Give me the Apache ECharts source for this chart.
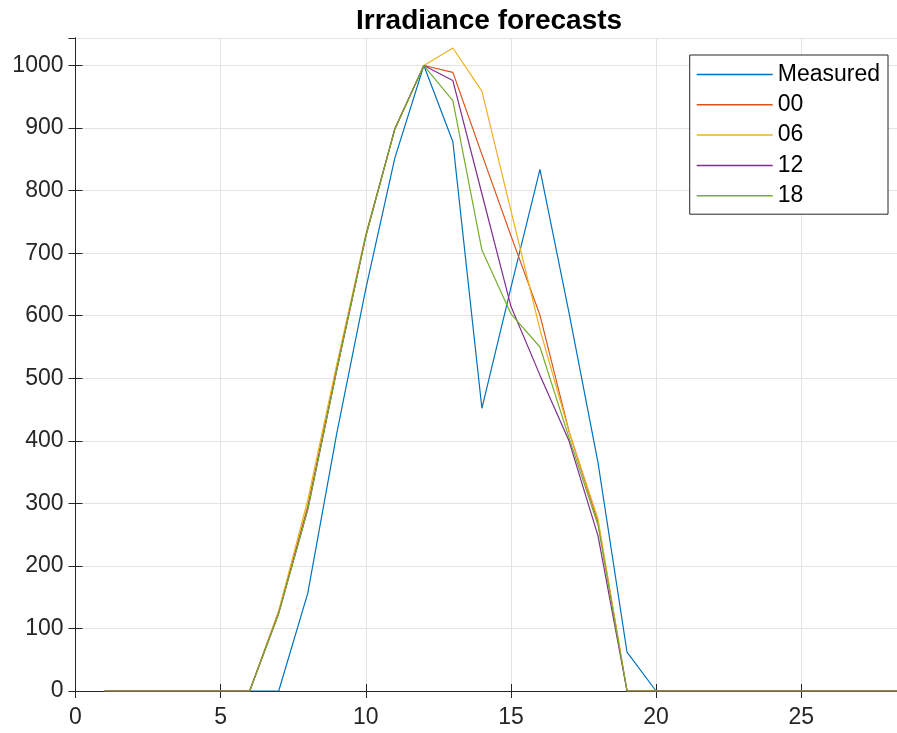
<!DOCTYPE html>
<html>
<head>
<meta charset="utf-8">
<script src="https://cdn.jsdelivr.net/npm/echarts@6/dist/echarts.min.js"></script>
<style>html,body{margin:0;padding:0;background:#fff}#c{width:897px;height:733px}</style>
</head>
<body>
<div id="c"></div>
<script>
const hours = [1,2,3,4,5,6,7,8,9,10,11,12,13,14,15,16,17,18,19,20,21,22,23,24,25,26,27,28,29];
const measured = [0,0,0,0,0,0,0,156,412,643,852,1000,878,452,645,834,605,365,62,0,0,0,0,0,0,0,0,0,0];
const f00 = [0,0,0,0,0,0,127,295,515,728,898,1000,989,858,728,601,415,270,0,0,0,0,0,0,0,0,0,0,0];
const f06 = [0,0,0,0,0,0,128,305,522,730,898,1000,1028,959,768,578,415,275,0,0,0,0,0,0,0,0,0,0,0];
const f12 = [0,0,0,0,0,0,124,290,513,727,899,1000,976,795,615,505,400,248,0,0,0,0,0,0,0,0,0,0,0];
const f18 = [0,0,0,0,0,0,124,290,513,727,898,1000,944,705,603,550,405,265,0,0,0,0,0,0,0,0,0,0,0];
const seriesNames = ['Measured','00','06','12','18'];
const seriesColors = ['#0072BD','#D95319','#EDB120','#7E2F8E','#77AC30'];
const seriesData = [measured, f00, f06, f12, f18];

const FONT = "'Liberation Sans', Arial, sans-serif";
const AX = '#262626';
const chart = echarts.init(document.getElementById('c'), null, {renderer:'canvas'});
const xBase = {type:'value', min:0, max:28.3, interval:5};
const yBase = {type:'value', min:0, max:1044, interval:100};
chart.setOption({
  animation:false,
  backgroundColor:'#fff',
  title:{text:'Irradiance forecasts', left:351, top:2,
    textStyle:{fontFamily:FONT, fontSize:28, fontWeight:'bold', color:'#000'}},
  grid:{left:75.5, right:-1, top:38, bottom:42, containLabel:false},
  legend:{orient:'vertical', right:9, top:55, data:seriesNames,
    backgroundColor:'#fff', borderColor:AX, borderWidth:1, padding:[8,8,7,7],
    itemWidth:76, itemHeight:1.5, itemGap:7.3, icon:'rect',
    textStyle:{fontFamily:FONT, fontSize:23, color:'#000'}},
  xAxis:[
    Object.assign({}, xBase, {position:'bottom',
      axisLine:{lineStyle:{color:AX, width:1}},
      axisTick:{inside:true, length:7, lineStyle:{color:AX}},
      splitLine:{show:true, lineStyle:{color:'#e3e3e3', width:1}},
      axisLabel:{margin:15, fontFamily:FONT, fontSize:23, color:AX, showMaxLabel:false,
        formatter:v => (Math.abs(v % 5) < 1e-9 ? String(v) : '')}}),
    Object.assign({}, xBase, {position:'top',
      axisLine:{lineStyle:{color:AX, width:1}},
      axisTick:{inside:true, length:7, lineStyle:{color:AX}},
      splitLine:{show:false}, axisLabel:{show:false}})
  ],
  yAxis:[
    Object.assign({}, yBase, {position:'left',
      axisLine:{show:true, lineStyle:{color:AX, width:1}},
      axisTick:{show:true, inside:true, length:7, lineStyle:{color:AX}},
      splitLine:{show:true, lineStyle:{color:'#e3e3e3', width:1}},
      axisLabel:{margin:12, fontFamily:FONT, fontSize:23, color:AX, showMaxLabel:false,
        formatter:v => (v % 100 === 0 ? String(v) : '')}}),
    Object.assign({}, yBase, {position:'right',
      axisLine:{show:true, lineStyle:{color:AX, width:1}},
      axisTick:{show:true, inside:true, length:7, lineStyle:{color:AX}},
      splitLine:{show:false}, axisLabel:{show:false}})
  ],
  series: seriesNames.map((n,i) => ({
    name:n, type:'line', xAxisIndex:0, yAxisIndex:0,
    data: hours.map((h,k) => [h, seriesData[i][k]]),
    symbol:'none', clip:true,
    lineStyle:{color:seriesColors[i], width:1.2},
    itemStyle:{color:seriesColors[i]},
    z: 2
  }))
});
</script>
</body>
</html>
